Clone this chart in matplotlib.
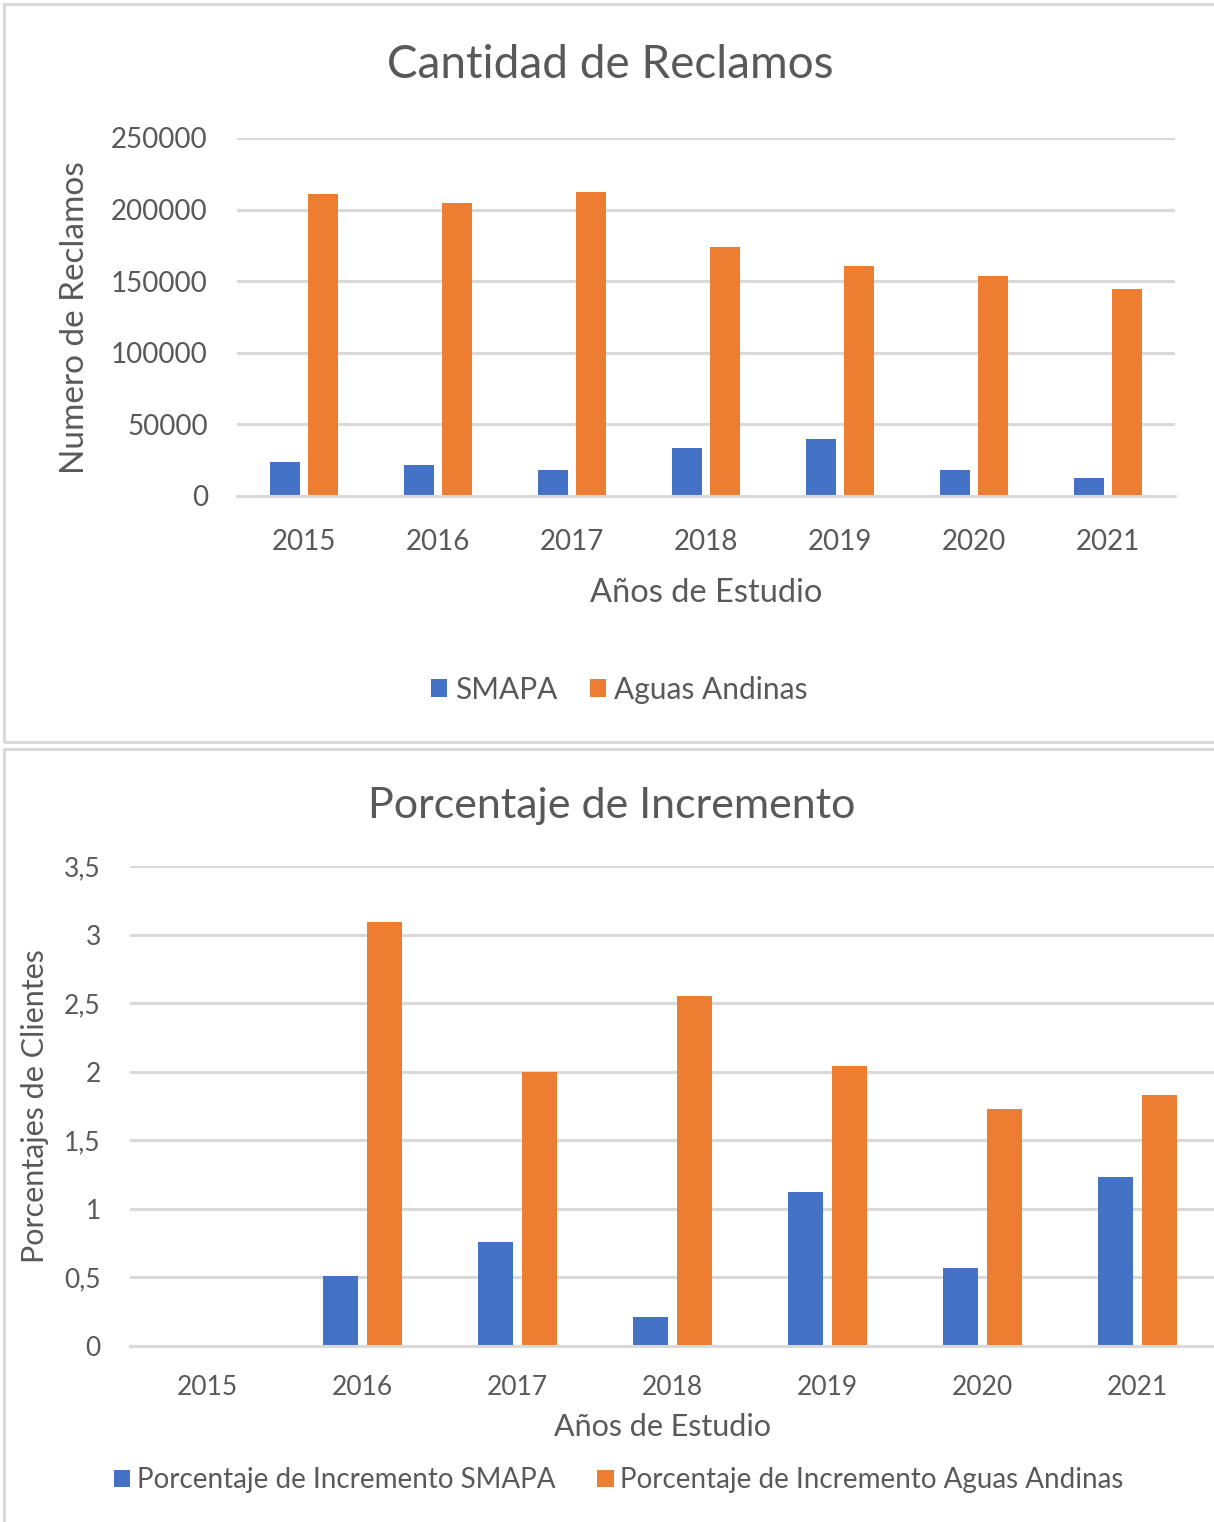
import numpy as np
import matplotlib
matplotlib.use("Agg")
from matplotlib import pyplot as plt
from matplotlib.patches import Rectangle
from matplotlib.ticker import FuncFormatter

W, H = 1214, 1522
plt.rcParams['font.family'] = ['Lato', 'DejaVu Sans']
TXT = '#595959'
GRID = '#d9d9d9'
BLUE = '#4472C4'
ORANGE = '#ED7D31'

years = ['2015', '2016', '2017', '2018', '2019', '2020', '2021']

# Cantidad de reclamos
reclamos_smapa = [23900, 21400, 17900, 33800, 39900, 17900, 12900]
reclamos_aguas = [211200, 204900, 212400, 174000, 160600, 153300, 144700]

# Porcentaje de incremento (2015 sin dato)
incr_smapa = [0, 0.507, 0.758, 0.215, 1.124, 0.568, 1.233]
incr_aguas = [0, 3.095, 1.998, 2.554, 2.045, 1.725, 1.830]


def fx(px):
    return px / W


def fy(py):
    return 1 - py / H


def comma_fmt(v, pos):
    s = ('%.1f' % v).rstrip('0').rstrip('.')
    return s.replace('.', ',')


fig = plt.figure(figsize=(W / 100, H / 100), dpi=100)

# panel borders
for (x0, y0, x1, y1) in [(4, 4, 1218, 742), (4, 749, 1218, 1526)]:
    fig.patches.append(Rectangle((fx(x0), fy(y1)), fx(x1 - x0), (y1 - y0) / H,
                                 transform=fig.transFigure, fill=False,
                                 edgecolor=GRID, lw=2.2))


def style_axes(ax, xpad, ypad, fs):
    for s in ['top', 'right', 'left']:
        ax.spines[s].set_visible(False)
    ax.spines['bottom'].set_color(GRID)
    ax.spines['bottom'].set_linewidth(2.2)
    ax.grid(axis='y', color=GRID, lw=2.2)
    ax.set_axisbelow(True)
    ax.tick_params(axis='both', length=0, colors=TXT, labelsize=fs)
    ax.tick_params(axis='x', pad=xpad)
    ax.tick_params(axis='y', pad=ypad)
    ax.set_xlim(-0.5, len(years) - 0.5)


x = np.arange(len(years))
w = 0.225
off = 0.143

# ---- top chart
ax1 = fig.add_axes([fx(237), fy(496), fx(1175 - 237), (496 - 138) / H])
b1 = ax1.bar(x - off, reclamos_smapa, w, color=BLUE, label='SMAPA')
b2 = ax1.bar(x + off, reclamos_aguas, w, color=ORANGE, label='Aguas Andinas')
ax1.set_ylim(0, 250000)
ax1.set_yticks(np.arange(0, 250001, 50000))
ax1.set_xticks(x, years)
style_axes(ax1, 24, 21, 20)

fig.text(fx(610), fy(65), 'Cantidad de Reclamos', ha='center', va='center',
         fontsize=33, color=TXT)
fig.text(fx(706), fy(593), 'Años de Estudio', ha='center', va='center',
         fontsize=23.5, color=TXT)
fig.text(fx(75), fy(318), 'Numero de Reclamos', ha='center', va='center',
         rotation=90, fontsize=24, color=TXT)
fig.legend(handles=[b1, b2], loc='center', bbox_to_anchor=(fx(619), fy(690)),
           ncol=2, frameon=False, fontsize=21.5, labelcolor=TXT,
           handlelength=0.55, handleheight=0.55, handletextpad=0.25,
           columnspacing=1.1)

# ---- bottom chart
ax2 = fig.add_axes([fx(130), fy(1346), fx(1215 - 130), (1346 - 866) / H])
c1 = ax2.bar(x - off, incr_smapa, w, color=BLUE,
             label='Porcentaje de Incremento SMAPA')
c2 = ax2.bar(x + off, incr_aguas, w, color=ORANGE,
             label='Porcentaje de Incremento Aguas Andinas')
ax2.set_ylim(0, 3.5)
ax2.set_yticks(np.arange(0, 3.51, 0.5))
ax2.yaxis.set_major_formatter(FuncFormatter(comma_fmt))
ax2.set_xticks(x, years)
style_axes(ax2, 21, 21, 19)

fig.text(fx(612), fy(806), 'Porcentaje de Incremento', ha='center', va='center',
         fontsize=31, color=TXT)
fig.text(fx(662), fy(1427), 'Años de Estudio', ha='center', va='center',
         fontsize=22, color=TXT)
fig.text(fx(35), fy(1106), 'Porcentajes de Clientes', ha='center', va='center',
         rotation=90, fontsize=22, color=TXT)
fig.legend(handles=[c1, c2], loc='center', bbox_to_anchor=(fx(619), fy(1480)),
           ncol=2, frameon=False, fontsize=20, labelcolor=TXT,
           handlelength=0.58, handleheight=0.58, handletextpad=0.25,
           columnspacing=1.5)

fig.savefig('out.png', dpi=100)
